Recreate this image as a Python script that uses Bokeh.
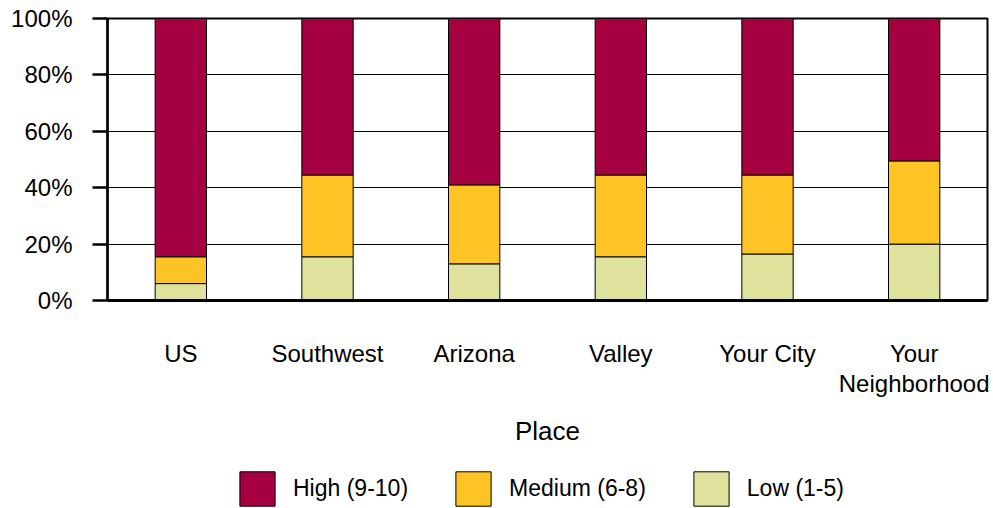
from bokeh.plotting import figure
from bokeh.layouts import column
from bokeh.models import (Legend, LegendItem, FixedTicker, PrintfTickFormatter,
                          FactorRange, Range1d, ColumnDataSource)
from bokeh.embed import file_html
from bokeh.resources import INLINE

places = ["US", "Southwest", "Arizona", "Valley", "Your City", "Your\nNeighborhood"]
low = [6, 15.5, 13, 15.5, 16.5, 20]
medium = [9.5, 29, 28, 29, 28, 29.5]
high = [84.5, 55.5, 59, 55.5, 55.5, 50.5]
series = ["low", "medium", "high"]
series_labels = {"high": "High (9-10)", "medium": "Medium (6-8)", "low": "Low (1-5)"}
colors = {"low": "#DFE29C", "medium": "#FEC425", "high": "#A50040"}
y_ticks = [0, 20, 40, 60, 80, 100]

FONT = "Liberation Sans"

src = ColumnDataSource(dict(place=places, low=low, medium=medium, high=high))

p = figure(x_range=FactorRange(*places, range_padding=0), y_range=Range1d(0, 100),
           width=993, height=454, output_backend="svg", toolbar_location=None,
           min_border_left=107, min_border_right=6, min_border_top=18, min_border_bottom=154)

p.vbar_stack(series, x="place", width=0.35, source=src,
             color=[colors[s] for s in series],
             line_color="black", line_width=1)

p.outline_line_color = "black"
p.outline_line_width = 2
p.xgrid.visible = False
p.ygrid.ticker = FixedTicker(ticks=y_ticks[1:-1])
p.ygrid.grid_line_color = "black"
p.ygrid.grid_line_width = 1

ya = p.yaxis[0]
ya.ticker = FixedTicker(ticks=y_ticks)
ya.formatter = PrintfTickFormatter(format="%d%%")
ya.major_tick_out = 15
ya.major_tick_in = 0
ya.minor_tick_out = 0
ya.minor_tick_in = 0
ya.major_tick_line_width = 2.5
ya.axis_line_width = 2.5
ya.major_label_standoff = 20
ya.major_label_text_font = FONT
ya.major_label_text_font_size = "24px"
ya.major_label_text_color = "black"

xa = p.xaxis[0]
xa.major_tick_out = 0
xa.major_tick_in = 0
xa.axis_line_width = 3
xa.major_label_standoff = 39
xa.major_label_text_font = FONT
xa.major_label_text_font_size = "24px"
xa.major_label_text_line_height = 1.13
xa.major_label_text_color = "black"
xa.axis_label = "Place"
xa.axis_label_standoff = 16
xa.axis_label_text_font = FONT
xa.axis_label_text_font_size = "26px"
xa.axis_label_text_font_style = "normal"
xa.axis_label_text_color = "black"

# legend strip below the chart (its frame is aligned with the chart frame)
lf = figure(width=993, height=54, output_backend="svg", toolbar_location=None,
            x_axis_type=None, y_axis_type=None, x_range=Range1d(0, 1), y_range=Range1d(0, 1),
            min_border_left=0, min_border_right=0, min_border_top=0, min_border_bottom=0)
lf.outline_line_color = None
lf.grid.visible = False
hidden = ColumnDataSource(dict(x=[-5.0], top=[-5.0]))  # swatch-only renderers, outside the view
items = []
for s in ["high", "medium", "low"]:
    r = lf.vbar(x="x", top="top", width=0.1, source=hidden,
                fill_color=colors[s], line_color="black", line_width=1)
    items.append(LegendItem(label=series_labels[s], renderers=[r]))
legend = Legend(items=items, orientation="horizontal", location=(128, -2),
                glyph_width=44, glyph_height=43, label_standoff=14, spacing=43,
                padding=0, margin=0, border_line_color=None, background_fill_alpha=0,
                label_text_font=FONT, label_text_font_size="23px", label_text_color="black")
lf.add_layout(legend)

open("out.html", "w").write(file_html(column(p, lf, spacing=0), INLINE))
